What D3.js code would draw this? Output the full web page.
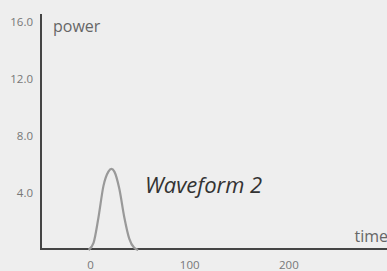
<!DOCTYPE html>
<html>
<head>
<meta charset="utf-8">
<script src="https://cdn.jsdelivr.net/npm/d3@7"></script>
<style>
  html, body { margin: 0; padding: 0; background: #eeeeee; }
  svg { display: block; font-family: "Open Sans", sans-serif; }
</style>
</head>
<body>
<svg id="main_svg" width="387" height="271"></svg>
<script>
// values
var times = [-2, 3, 8, 13, 18, 21, 24, 29, 34, 39, 44, 48];
var power = [0, 0.5, 2.3, 4.5, 5.5, 5.7, 5.5, 4.3, 2.3, 0.8, 0.15, 0];
var yTicks = [4, 8, 12, 16];
var xTicks = [0, 100, 200];
var seriesName = "Waveform 2";

var svg = d3.select("#main_svg");
var width = 387, height = 271;

var x = d3.scaleLinear().domain([-50, 300]).range([41, 388]);
var y = d3.scaleLinear().domain([0, 16]).range([250, 22]);

// axis lines
svg.append("line")
    .attr("x1", 41).attr("x2", 41)
    .attr("y1", 14).attr("y2", 250)
    .attr("stroke", "#444").attr("stroke-width", 2);
svg.append("line")
    .attr("x1", 40).attr("x2", width)
    .attr("y1", 249).attr("y2", 249)
    .attr("stroke", "#444").attr("stroke-width", 2);

// y tick labels
svg.append("g")
    .selectAll("text")
    .data(yTicks)
    .enter()
    .append("text")
    .attr("x", 33)
    .attr("y", function(d) { return y(d); })
    .attr("dy", "0.35em")
    .attr("text-anchor", "end")
    .attr("font-size", 11.5)
    .attr("fill", "#777")
    .text(function(d) { return d3.format(".1f")(d); });

// x tick labels
svg.append("g")
    .selectAll("text")
    .data(xTicks)
    .enter()
    .append("text")
    .attr("x", function(d) { return x(d); })
    .attr("y", 265)
    .attr("dy", "0.35em")
    .attr("text-anchor", "middle")
    .attr("font-size", 11.5)
    .attr("fill", "#777")
    .text(function(d) { return d; });

// axis titles
svg.append("text")
    .attr("x", 53).attr("y", 32)
    .attr("font-size", 16)
    .attr("fill", "#666")
    .text("power");
svg.append("text")
    .attr("x", 388).attr("y", 242)
    .attr("text-anchor", "end")
    .attr("font-size", 16)
    .attr("fill", "#666")
    .text("time");

// waveform
var line = d3.line()
    .x(function(d, i) { return x(times[i]); })
    .y(function(d) { return y(d); })
    .curve(d3.curveMonotoneX);

svg.append("path")
    .datum(power)
    .attr("d", line)
    .attr("fill", "none")
    .attr("stroke", "#999")
    .attr("stroke-width", 2.2);

svg.append("text")
    .attr("x", 145).attr("y", 193)
    .attr("font-size", 22)
    .attr("font-style", "italic")
    .attr("fill", "#333")
    .text(seriesName);
</script>
</body>
</html>
